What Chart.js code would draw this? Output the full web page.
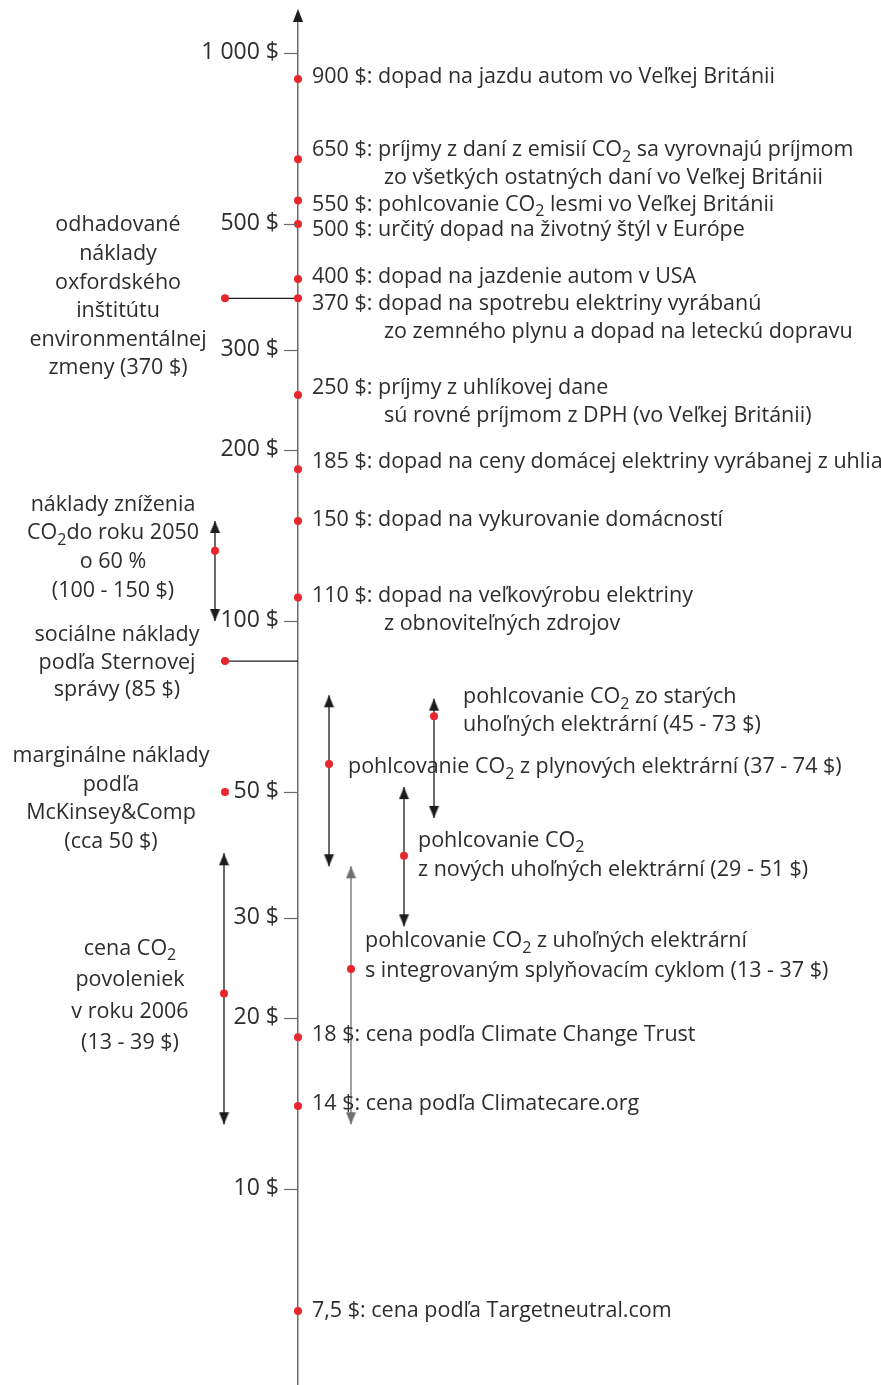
<!DOCTYPE html>
<html>
<head>
<meta charset="utf-8">
<script src="https://cdn.jsdelivr.net/npm/chart.js@4/dist/chart.umd.min.js"></script>
<style>
  html, body { margin: 0; padding: 0; background: #fff; }
  #wrap { width: 881px; height: 1385px; }
</style>
</head>
<body>
<div id="wrap"><canvas id="chart" width="881" height="1385"></canvas></div>
<script>
// ===== data =====
const tickValues = [1000, 500, 300, 200, 100, 50, 30, 20, 10];
const tickLabels = ['1 000 $', '500 $', '300 $', '200 $', '100 $', '50 $', '30 $', '20 $', '10 $'];

// costs marked on the axis (where the picture places them)
const axisValues = [900, 650, 550, 500, 400, 370, 250, 185, 150, 110, 18.5, 14, 6.1];
const axisTexts = [
    ['900 $: dopad na jazdu autom vo Veľkej Británii'],
    ['650 $: príjmy z daní z emisií CO_2 sa vyrovnajú príjmom', 'zo všetkých ostatných daní vo Veľkej Británii'],
    ['550 $: pohlcovanie CO_2 lesmi vo Veľkej Británii'],
    ['500 $: určitý dopad na životný štýl v Európe'],
    ['400 $: dopad na jazdenie autom v USA'],
    ['370 $: dopad na spotrebu elektriny vyrábanú', 'zo zemného plynu a dopad na leteckú dopravu'],
    ['250 $: príjmy z uhlíkovej dane', 'sú rovné príjmom z DPH (vo Veľkej Británii)'],
    ['185 $: dopad na ceny domácej elektriny vyrábanej z uhlia'],
    ['150 $: dopad na vykurovanie domácností'],
    ['110 $: dopad na veľkovýrobu elektriny', 'z obnoviteľných zdrojov'],
    ['18 $: cena podľa Climate Change Trust'],
    ['14 $: cena podľa Climatecare.org'],
    ['7,5 $: cena podľa Targetneutral.com']
];

// single estimates left of the axis
const estimateValues = [370, 85, 50];
const estimateTexts = [
    ['odhadované', 'náklady', 'oxfordského', 'inštitútu', 'environmentálnej', 'zmeny (370 $)'],
    ['sociálne náklady', 'podľa Sternovej', 'správy (85 $)'],
    ['marginálne náklady', 'podľa', 'McKinsey&Comp', '(cca 50 $)']
];

// ranges (arrows) and the red dot on each
const rangeLow  = [100, 13, 37, 13, 29, 45];
const rangeHigh = [150, 39, 74, 37, 51, 73];
const rangeMid  = [133, 22.1, 56, 24.4, 38.6, 68];
const rangeTexts = [
    ['náklady zníženia', 'CO_2do roku 2050', 'o 60 %', '(100 - 150 $)'],
    ['cena CO_2', 'povoleniek', 'v roku 2006', '(13 - 39 $)'],
    ['pohlcovanie CO_2 z plynových elektrární (37 - 74 $)'],
    ['pohlcovanie CO_2 z uhoľných elektrární', 's integrovaným splyňovacím cyklom (13 - 37 $)'],
    ['pohlcovanie CO_2', 'z nových uhoľných elektrární (29 - 51 $)'],
    ['pohlcovanie CO_2 zo starých', 'uhoľných elektrární (45 - 73 $)']
];

// ===== layout =====
const X_AXIS = 298, X_LEFT = 225;
const RED = '#e8262d', INK = '#2d2d2d', AXIS = '#6b6b6b', ARROW = '#1c1c1c';
const FONT = '"Open Sans", "Noto Sans", sans-serif';
const TEXT_SIZE = 21.5, SUB_SIZE = 16, TICK_SIZE = 23;
const rangeX = [215, 224, 329, 351, 404, 434];
const rangeColor = [ARROW, ARROW, ARROW, '#6f6f6f', ARROW, ARROW];
const axisTextDy = [-2, -9, 4, 6, -2, 6, -7, -7, -1, -2, -2, -2, 0];
const estimateLine = [true, true, false];
const estimateLayout = [
    { x: 118, dy: -73, lh: 28.6 },
    { x: 117, dy: -26, lh: 27.5 },
    { x: 111, dy: -36, lh: 28.5 }
];
const rangeLayout = [
    { x: 113, align: 'center', dy: -46, lh: 28.7 },
    { x: 130, align: 'center', dy: -45, lh: 31.5 },
    { x: 348, align: 'left', dy: 3, lh: 28 },
    { x: 365, align: 'left', dy: -28, lh: 30 },
    { x: 418, align: 'left', dy: -15, lh: 29 },
    { x: 463, align: 'left', dy: -19, lh: 28 }
];

function arrowHead(color) {
    // tip sits at the canvas centre so the point marks the end of the range
    const c = document.createElement('canvas');
    c.width = 11; c.height = 26;
    const g = c.getContext('2d');
    g.fillStyle = color;
    g.beginPath();
    g.moveTo(5.5, 13); g.lineTo(10.5, 25); g.lineTo(0.5, 25);
    g.closePath(); g.fill();
    return c;
}

// draws text where "_2" becomes a subscript
function drawRich(ctx, s, x, y, align, size = TEXT_SIZE) {
    const parts = s.split(/_(\d)/);
    const main = `${size}px ${FONT}`, sub = `${SUB_SIZE}px ${FONT}`;
    let w = 0;
    parts.forEach((p, i) => { ctx.font = i % 2 ? sub : main; w += ctx.measureText(p).width; });
    let cx = align === 'center' ? x - w / 2 : align === 'right' ? x - w : x;
    parts.forEach((p, i) => {
        ctx.font = i % 2 ? sub : main;
        ctx.fillText(p, cx, y + (i % 2 ? 7 : 0));
        cx += ctx.measureText(p).width;
    });
}

const notesPlugin = {
    id: 'notes',
    afterDatasetsDraw(chart) {
        const { ctx, scales: { x, y }, chartArea } = chart;
        const ax = x.getPixelForValue(X_AXIS);
        ctx.save();

        // tick marks and labels left of the axis
        ctx.strokeStyle = AXIS;
        ctx.lineWidth = 1.2;
        ctx.fillStyle = INK;
        ctx.textAlign = 'left';
        ctx.textBaseline = 'middle';
        y.ticks.forEach((t, i) => {
            const py = Math.round(y.getPixelForValue(t.value)) + 0.5;
            ctx.beginPath();
            ctx.moveTo(ax - 14, py);
            ctx.lineTo(ax, py);
            ctx.stroke();
            drawRich(ctx, tickLabels[i], ax - 19, py - 1, 'right', TICK_SIZE);
        });

        axisTexts.forEach((lines, i) => {
            const py = y.getPixelForValue(axisValues[i]) + axisTextDy[i];
            drawRich(ctx, lines[0], ax + 14, py);
            if (lines[1]) drawRich(ctx, lines[1], ax + 86, py + 28);
        });
        estimateTexts.forEach((lines, i) => {
            const L = estimateLayout[i];
            const py = y.getPixelForValue(estimateValues[i]) + L.dy;
            lines.forEach((t, k) => drawRich(ctx, t, L.x, py + k * L.lh, 'center'));
        });
        rangeTexts.forEach((lines, i) => {
            const L = rangeLayout[i];
            const py = y.getPixelForValue(rangeMid[i]) + L.dy;
            lines.forEach((t, k) => drawRich(ctx, t, L.x, py + k * L.lh, L.align));
        });

        // arrow head on top of the axis
        ctx.fillStyle = '#1c1c1c';
        ctx.beginPath();
        ctx.moveTo(ax, chartArea.top - 13);
        ctx.lineTo(ax + 5, chartArea.top);
        ctx.lineTo(ax - 5, chartArea.top);
        ctx.closePath();
        ctx.fill();
        ctx.restore();
    }
};

const upHead = rangeColor.map(arrowHead);

const datasets = [];
datasets.push({
    data: axisValues.map(v => ({ x: X_AXIS, y: v })),
    pointRadius: 4, pointBackgroundColor: RED, pointBorderWidth: 0
});
datasets.push({
    data: rangeMid.map((v, i) => ({ x: rangeX[i], y: v })),
    pointRadius: 4, pointBackgroundColor: RED, pointBorderWidth: 0
});
estimateValues.forEach((v, i) => {
    datasets.push({
        data: estimateLine[i] ? [{ x: X_LEFT, y: v }, { x: X_AXIS, y: v }] : [{ x: X_LEFT, y: v }],
        showLine: estimateLine[i],
        borderColor: ARROW, borderWidth: 1.3,
        pointRadius: [4, 0], pointBackgroundColor: RED, pointBorderWidth: 0
    });
});
rangeLow.forEach((lo, i) => {
    datasets.push({
        data: [{ x: rangeX[i], y: rangeHigh[i] }, { x: rangeX[i], y: lo }],
        showLine: true,
        borderColor: rangeColor[i], borderWidth: 1.3,
        pointStyle: upHead[i], rotation: [0, 180], pointRadius: 6
    });
});

new Chart(document.getElementById('chart'), {
    type: 'scatter',
    data: { datasets },
    options: {
        responsive: false,
        animation: false,
        events: [],
        layout: { autoPadding: false, padding: { top: 22, bottom: 0, left: 0, right: 0 } },
        plugins: { legend: { display: false }, tooltip: { enabled: false } },
        scales: {
            x: { type: 'linear', min: 0, max: 881, display: false },
            y: {
                type: 'logarithmic',
                min: 4.518, max: 1134,
                bounds: 'data',
                position: { x: X_AXIS },
                afterBuildTicks: s => { s.ticks = tickValues.map(v => ({ value: v })); },
                afterFit: s => { s.paddingTop = 0; s.paddingBottom = 0; s.paddingLeft = 0; s.paddingRight = 0; },
                ticks: { display: false, autoSkip: false },
                grid: { drawOnChartArea: false, drawTicks: false },
                border: { display: true, color: AXIS, width: 1.5 }
            }
        }
    },
    plugins: [notesPlugin]
});
</script>
</body>
</html>
